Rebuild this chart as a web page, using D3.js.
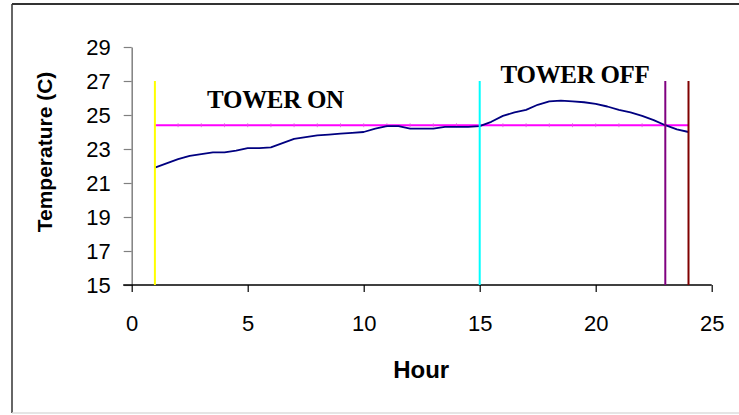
<!DOCTYPE html>
<html>
<head>
<meta charset="utf-8">
<script src="https://cdn.jsdelivr.net/npm/d3@7"></script>
<style>
  html, body { margin: 0; padding: 0; background: #fff; }
  svg { display: block; }
</style>
</head>
<body>
<svg id="chart" width="739" height="415"></svg>
<script>
// ---- data ----
const hours = [1, 1.5, 2, 2.5, 3, 3.5, 4, 4.5, 5, 5.5, 6, 6.5, 7, 7.5, 8, 8.5, 9, 9.5, 10, 10.5,
  11, 11.5, 12, 12.5, 13, 13.5, 14, 14.5, 15, 15.5, 16, 16.5, 17, 17.5, 18, 18.5, 19, 19.5,
  20, 20.5, 21, 21.5, 22, 22.5, 23, 23.5, 24];
const temps = [21.9, 22.15, 22.4, 22.6, 22.7, 22.8, 22.8, 22.9, 23.05, 23.05, 23.1, 23.35, 23.6, 23.7,
  23.8, 23.85, 23.9, 23.95, 24.0, 24.2, 24.35, 24.35, 24.2, 24.2, 24.2, 24.3, 24.3, 24.3,
  24.35, 24.6, 24.95, 25.15, 25.3, 25.6, 25.8, 25.85, 25.8, 25.75, 25.65, 25.5, 25.3, 25.15,
  24.95, 24.7, 24.4, 24.15, 24.0];
const setpoint = 24.4;
const setpointHours = [1, 2, 3, 4, 5, 6, 7, 8, 9, 10, 11, 12, 13, 14, 15, 16, 17, 18, 19, 20, 21, 22, 23, 24];
const eventHours = [1, 15, 23, 24];
const eventRange = [15, 27];
const yTicks = [15, 17, 19, 21, 23, 25, 27, 29];
const xTicks = [0, 5, 10, 15, 20, 25];
const annotations = [
  { text: "TOWER ON", hour: 3.25, temp: 25.39 },
  { text: "TOWER OFF", hour: 15.9, temp: 26.9 }
];

// ---- styles ----
const eventColors = ["#ffff00", "#00ffff", "#800080", "#800000"];

const svg = d3.select("#chart");
const x = d3.scaleLinear().domain([0, 25]).range([131.7, 711.7]);
const y = d3.scaleLinear().domain([15, 29]).range([285, 47]);

// outer border
svg.append("line").attr("x1", 12).attr("x2", 12).attr("y1", 4).attr("y2", 413)
  .attr("stroke", "#333").attr("stroke-width", 1.5);
svg.append("line").attr("x1", 12).attr("x2", 739).attr("y1", 4).attr("y2", 4)
  .attr("stroke", "#333").attr("stroke-width", 2);
svg.append("line").attr("x1", 12).attr("x2", 739).attr("y1", 413).attr("y2", 413)
  .attr("stroke", "#ddd").attr("stroke-width", 1.5);

// y axis
const yAxis = svg.append("g").attr("transform", `translate(${x(0)},0)`)
  .call(d3.axisLeft(y).tickValues(yTicks).tickSize(8).tickPadding(13).tickSizeOuter(0).tickFormat(d3.format("d")));
yAxis.select(".domain").attr("stroke", "#808080").attr("stroke-width", 1.5);
yAxis.selectAll(".tick line").attr("stroke", "#808080").attr("stroke-width", 1.2);
yAxis.selectAll(".tick text").attr("font-family", "'Liberation Sans', Arial, sans-serif")
  .attr("font-size", 22).attr("fill", "#000");

// x axis
const xAxis = svg.append("g").attr("transform", `translate(0,${y(15)})`)
  .call(d3.axisBottom(x).tickValues(xTicks).tickSize(7).tickPadding(23).tickSizeOuter(0));
xAxis.select(".domain").remove();
xAxis.selectAll(".tick line").attr("stroke", "#000").attr("stroke-width", 1.2);
xAxis.selectAll(".tick text").attr("font-family", "'Liberation Sans', Arial, sans-serif")
  .attr("font-size", 22).attr("fill", "#000");
svg.append("line").attr("x1", x(0) - 8.5).attr("x2", x(25)).attr("y1", y(15)).attr("y2", y(15))
  .attr("stroke", "#000").attr("stroke-width", 1.5);

// setpoint line
svg.append("path")
  .attr("d", d3.line()([[x(setpointHours[0]), y(setpoint)], [x(setpointHours[setpointHours.length - 1]), y(setpoint)]]))
  .attr("stroke", "#ff00ff").attr("stroke-width", 2).attr("fill", "none");
svg.append("g").selectAll("line").data(setpointHours).join("line")
  .attr("x1", d => x(d)).attr("x2", d => x(d))
  .attr("y1", y(setpoint) - 2).attr("y2", y(setpoint) + 2)
  .attr("stroke", "#e060e0").attr("stroke-width", 0.8);

// temperature line
svg.append("path")
  .datum(hours.map((h, i) => [h, temps[i]]))
  .attr("d", d3.line().x(d => x(d[0])).y(d => y(d[1])))
  .attr("stroke", "#000080").attr("stroke-width", 1.8).attr("fill", "none")
  .attr("stroke-linejoin", "round");

// event vertical lines
svg.append("g").selectAll("line").data(eventHours).join("line")
  .attr("x1", d => x(d)).attr("x2", d => x(d))
  .attr("y1", y(eventRange[0])).attr("y2", y(eventRange[1]))
  .attr("stroke", (d, i) => eventColors[i]).attr("stroke-width", 2);

// annotations
svg.append("g").selectAll("text").data(annotations).join("text")
  .attr("x", d => x(d.hour)).attr("y", d => y(d.temp))
  .attr("font-family", "'Liberation Serif', 'Times New Roman', serif")
  .attr("font-weight", "bold").attr("font-size", 25).attr("letter-spacing", -0.3)
  .text(d => d.text);

// axis titles
svg.append("text").attr("x", (x(0) + x(25)) / 2 - 0.5).attr("y", 377.7)
  .attr("text-anchor", "middle")
  .attr("font-family", "'Liberation Sans', Arial, sans-serif").attr("font-weight", "bold").attr("font-size", 24)
  .text("Hour");
svg.append("text").attr("transform", `translate(51.5,152) rotate(-90)`)
  .attr("text-anchor", "middle")
  .attr("font-family", "'Liberation Sans', Arial, sans-serif").attr("font-weight", "bold").attr("font-size", 21)
  .text("Temperature (C)");
</script>
</body>
</html>
